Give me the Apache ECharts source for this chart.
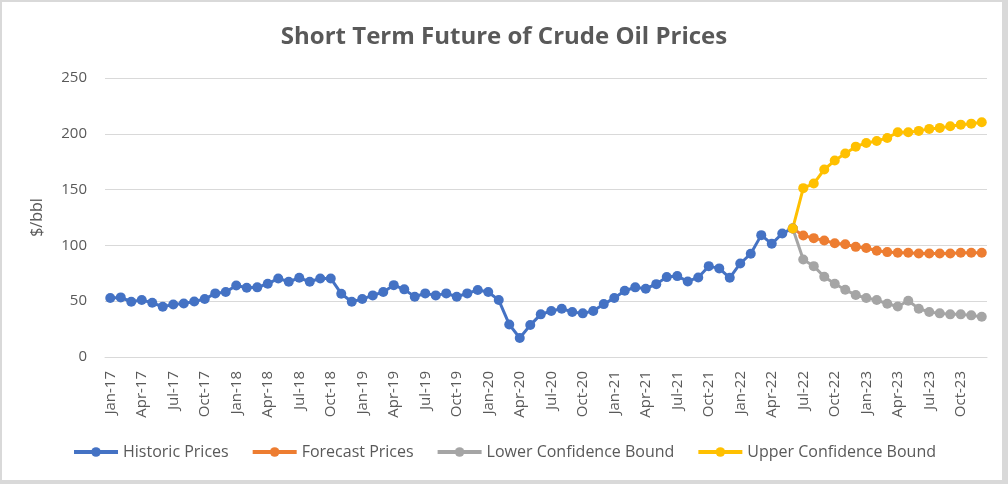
<!DOCTYPE html>
<html>
<head>
<meta charset="utf-8">
<script src="https://cdn.jsdelivr.net/npm/echarts@6/dist/echarts.min.js"></script>
<style>
  html, body { margin: 0; padding: 0; background: #fff; }
  #wrap { position: relative; width: 1008px; height: 484px; }
  #chart { position: absolute; left: 0; top: 0; width: 1008px; height: 484px; }
  #frame { position: absolute; left: 0; top: 0; width: 1008px; height: 484px; box-sizing: border-box;
           border-top: 2px solid #d9d9d9; border-left: 2px solid #d9d9d9;
           border-right: 6px solid #d9d9d9; border-bottom: 4px solid #d9d9d9; pointer-events: none; }
</style>
</head>
<body>
<div id="wrap"><div id="chart"></div><div id="frame"></div></div>
<script>
const categories = [
  "Jan-17","Feb-17","Mar-17","Apr-17","May-17","Jun-17","Jul-17","Aug-17","Sep-17","Oct-17","Nov-17","Dec-17",
  "Jan-18","Feb-18","Mar-18","Apr-18","May-18","Jun-18","Jul-18","Aug-18","Sep-18","Oct-18","Nov-18","Dec-18",
  "Jan-19","Feb-19","Mar-19","Apr-19","May-19","Jun-19","Jul-19","Aug-19","Sep-19","Oct-19","Nov-19","Dec-19",
  "Jan-20","Feb-20","Mar-20","Apr-20","May-20","Jun-20","Jul-20","Aug-20","Sep-20","Oct-20","Nov-20","Dec-20",
  "Jan-21","Feb-21","Mar-21","Apr-21","May-21","Jun-21","Jul-21","Aug-21","Sep-21","Oct-21","Nov-21","Dec-21",
  "Jan-22","Feb-22","Mar-22","Apr-22","May-22","Jun-22","Jul-22","Aug-22","Sep-22","Oct-22","Nov-22","Dec-22",
  "Jan-23","Feb-23","Mar-23","Apr-23","May-23","Jun-23","Jul-23","Aug-23","Sep-23","Oct-23","Nov-23","Dec-23"
];
const yTicks = [0, 50, 100, 150, 200, 250];

// Jan-17 .. Jun-22 (66 values)
const historic = [
  52.8, 53.4, 49.5, 51.0, 48.6, 45.0, 47.1, 48.0, 49.8, 51.9, 57.0, 58.2,
  64.1, 62.1, 62.4, 65.6, 70.4, 67.4, 71.0, 67.4, 70.4, 70.4, 56.7, 49.5,
  51.9, 55.2, 58.2, 64.4, 60.6, 54.0, 57.0, 55.2, 57.0, 54.0, 57.0, 60.0,
  58.2, 51.0, 29.2, 17.0, 28.6, 38.2, 41.2, 43.3, 40.3, 39.1, 41.2, 47.4,
  52.8, 59.4, 62.4, 61.2, 65.3, 71.6, 72.5, 67.7, 71.3, 81.4, 79.4, 71.0,
  83.8, 92.5, 109.2, 101.4, 110.7, 115.2
];
// Jun-22 .. Dec-23 (19 values)
const forecast = [115.2, 108.9, 106.5, 104.4, 102.0, 101.1, 98.7, 97.6, 95.2, 94.0, 93.4, 93.4, 92.8, 92.8, 92.8, 92.8, 93.4, 93.4, 93.4];
const lowerBound = [115.2, 87.4, 81.4, 71.9, 65.6, 60.3, 55.5, 52.8, 51.0, 47.7, 45.3, 50.4, 43.3, 40.3, 39.1, 38.2, 38.2, 37.3, 36.1];
const upperBound = [115.2, 151.3, 155.4, 168.0, 176.0, 182.3, 188.5, 191.8, 193.6, 196.3, 201.4, 201.4, 202.6, 204.4, 205.3, 206.7, 208.2, 209.1, 210.3];

const forecastStart = historic.length - 1;
function place(arr, start) {
  const out = new Array(categories.length).fill(null);
  arr.forEach((v, i) => { out[start + i] = v; });
  return out;
}

const FONT = "'Open Sans', 'Noto Sans', sans-serif";
const TXT = '#595959';

function lineSeries(name, data, color) {
  return {
    name: name, type: 'line', data: data, connectNulls: false,
    symbol: 'circle', symbolSize: 10, showSymbol: true, showAllSymbol: true,
    lineStyle: { color: color, width: 3 },
    itemStyle: { color: color, borderWidth: 0 },
    emphasis: { disabled: true },
    animation: false
  };
}

const chart = echarts.init(document.getElementById('chart'), null, { renderer: 'canvas' });
chart.setOption({
  backgroundColor: '#ffffff',
  animation: false,
  title: {
    text: 'Short Term Future of Crude Oil Prices',
    left: 'center', top: 20,
    textStyle: { fontFamily: FONT, fontSize: 24, fontWeight: 'bold', color: TXT }
  },
  legend: {
    bottom: 19, left: 'center',
    itemWidth: 44, itemHeight: 12, itemGap: 22,
    lineStyle: { width: 4 },
    textStyle: { fontFamily: FONT, fontSize: 16, color: TXT },
    data: ['Historic Prices', 'Forecast Prices', 'Lower Confidence Bound', 'Upper Confidence Bound']
  },
  grid: { left: 105, right: 21, top: 78, bottom: 127, containLabel: false },
  xAxis: {
    type: 'category', data: categories, boundaryGap: true,
    axisLine: { lineStyle: { color: '#d9d9d9', width: 1 } },
    axisTick: { show: false },
    axisLabel: { interval: 2, rotate: 90, margin: 14, fontFamily: FONT, fontSize: 15, color: TXT },
    splitLine: { show: false }
  },
  yAxis: {
    type: 'value', min: yTicks[0], max: yTicks[yTicks.length - 1], interval: 50,
    name: '$/bbl', nameLocation: 'middle', nameGap: 60, nameRotate: 90,
    nameTextStyle: { fontFamily: FONT, fontSize: 16, color: TXT },
    axisLine: { show: false }, axisTick: { show: false },
    axisLabel: { margin: 18, fontFamily: FONT, fontSize: 15, color: TXT },
    splitLine: { lineStyle: { color: '#d9d9d9', width: 1 } }
  },
  series: [
    lineSeries('Historic Prices', place(historic, 0), '#4472C4'),
    lineSeries('Forecast Prices', place(forecast, forecastStart), '#ED7D31'),
    lineSeries('Lower Confidence Bound', place(lowerBound, forecastStart), '#A5A5A5'),
    lineSeries('Upper Confidence Bound', place(upperBound, forecastStart), '#FFC000')
  ]
});
</script>
</body>
</html>
